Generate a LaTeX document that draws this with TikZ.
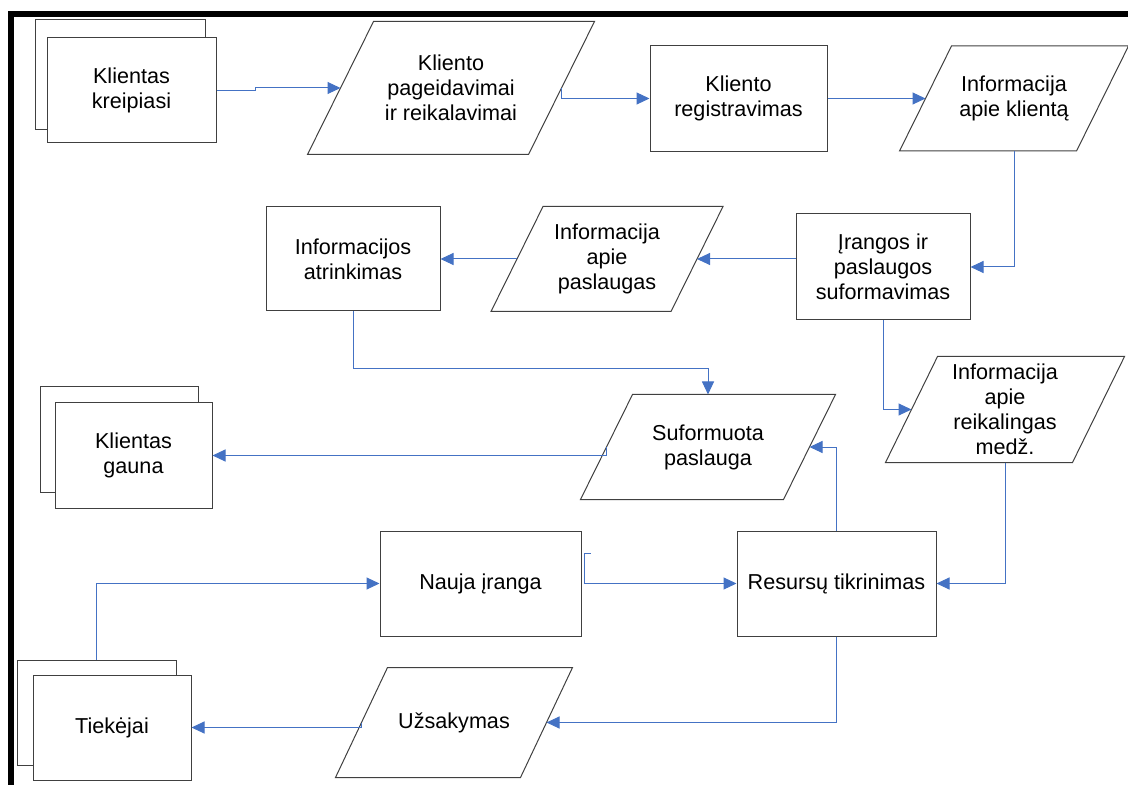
\documentclass[tikz,border=0pt]{standalone}
\usepackage{fontspec}
\setmainfont{Liberation Sans}
\usepackage{xcolor}
\usepackage{tikz}
\usetikzlibrary{arrows.meta,positioning}
\definecolor{linkblue}{HTML}{4472C4}
\definecolor{outline}{HTML}{404040}

\begin{document}
\begin{tikzpicture}[
    x=0.5pt,y=-0.5pt,
    box/.style={draw=outline,fill=white,line width=0.5pt,inner sep=0pt,align=center,
      minimum width=87pt,minimum height=52.5pt,font=\fontsize{10.8}{12.5}\selectfont},
    iobox/.style={box,draw=none,fill=none},
    slantline/.style={draw=outline,line width=0.5pt},
    arrow/.style={-{Triangle[length=6.5pt,width=6pt]},draw=linkblue,line width=0.5pt},
    pageframe/.style={line width=2.8pt}
  ]
    \useasboundingbox (0,0) rectangle (1128,785);
    \draw[pageframe] (11,785) -- (11,14) -- (1128,14);

    \node[box,minimum width=85pt,minimum height=55pt] (kreipback) at (120,75) {};
    \node[box,minimum width=84.5pt] (kreip) at (131.5,90.5) {Klientas\\kreipiasi};
    \node[iobox,minimum width=110pt,minimum height=66pt] (pageid) at (451,88) {Kliento\\pageidavimai\\ir reikalavimai};
    \node[box,minimum width=88.5pt,minimum height=53pt] (reg) at (738.5,98.5) {Kliento\\registravimas};
    \node[iobox,minimum width=88pt,minimum height=52pt] (infokl) at (1014,98.5) {Informacija\\apie klientą};

    \node[box,minimum height=53pt] (irang) at (883,267) {Įrangos ir\\paslaugos\\suformavimas};
    \node[iobox,minimum width=89.5pt,minimum height=52pt] (infopasl) at (607,259) {Informacija\\apie\\paslaugas};
    \node[box,minimum height=52pt,left=38.25pt of infopasl] (atrink) {Informacijos\\atrinkimas};

    \node[iobox,minimum width=93pt] (infomedz) at (1005,409.5) {Informacija\\apie\\reikalingas\\medž.};
    \node[iobox,minimum width=101pt,minimum height=52pt] (suform) at (708,447) {Suformuota\\paslauga};
    \node[box,minimum width=79pt] (gaunaback) at (119,439.5) {};
    \node[box,minimum width=78.5pt] (gauna) at (133.5,455.5) {Klientas\\gauna};

    \node[box,minimum width=100.5pt] (nauja) at (480.5,583.5) {Nauja įranga};
    \node[box,minimum width=99.5pt,right=77.5pt of nauja] (resurs) {Resursų tikrinimas};

    \node[iobox,minimum width=92pt,minimum height=54.5pt] (uzsak) at (454,722.5) {Užsakymas};
    \node[box,minimum width=79.5pt] (tiekback) at (96.5,712.5) {};
    \node[box,minimum width=79pt] (tiek) at (112,727.5) {Tiekėjai};

    \foreach \nm/\sl in {pageid/16.5,infokl/13,infopasl/13,infomedz/13,suform/13,uzsak/13}
      \draw[slantline] ([xshift=-\sl pt]\nm.south west) -- ([xshift=\sl pt]\nm.north west)
        -- ([xshift=\sl pt]\nm.north east) -- ([xshift=-\sl pt]\nm.south east) -- cycle;

    \draw[arrow] (kreip.east) -- ++(39,0) |- (pageid.west);
    \draw[arrow] (pageid.east) |- (reg.west);
    \draw[arrow] (reg.east) -- (infokl.west);
    \draw[arrow] (infokl.south) |- (irang.east);
    \draw[arrow] (irang.west |- infopasl.east) -- (infopasl.east);
    \draw[arrow] (infopasl.west) -- (atrink.east);
    \draw[arrow] (atrink.south) -- ++(0,57) -| (suform.north);
    \draw[arrow] (irang.south) |- (infomedz.west);
    \draw[arrow] (suform.west) |- (gauna.east);
    \draw[arrow] (resurs.north) |- (suform.east);
    \draw[arrow] (infomedz.south) |- (resurs.east);
    \draw[arrow] ([shift={(9,-30.5)}]nauja.east) -- ++(-6,0) |- (resurs.west);
    \draw[arrow] (resurs.south) |- (uzsak.east);
    \draw[arrow] (uzsak.west) |- (tiek.east);
    \draw[arrow] (tiekback.north) |- (nauja.west);
\end{tikzpicture}
\end{document}
